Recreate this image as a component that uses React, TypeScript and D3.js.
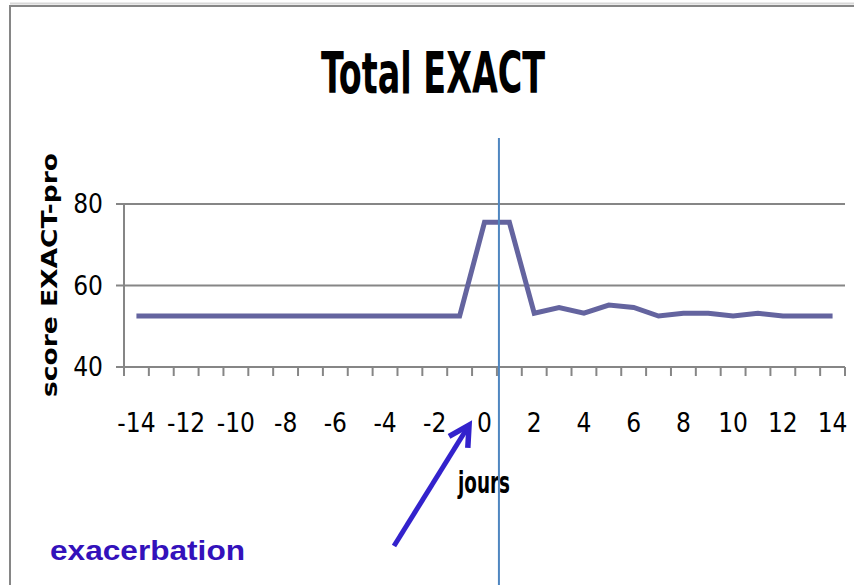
import React from "react";
import * as d3 from "d3";

const days: string[] = [
  "-14", "-13", "-12", "-11", "-10", "-9", "-8", "-7", "-6", "-5", "-4", "-3", "-2", "-1",
  "0", "1", "2", "3", "4", "5", "6", "7", "8", "9", "10", "11", "12", "13", "14",
];
const scores: number[] = [
  52.5, 52.5, 52.5, 52.5, 52.5, 52.5, 52.5, 52.5, 52.5, 52.5, 52.5, 52.5, 52.5, 52.5,
  75.5, 75.5, 53.2, 54.6, 53.2, 55.2, 54.6, 52.5, 53.2, 53.2, 52.5, 53.2, 52.5, 52.5, 52.5,
];
const xTickLabels: string[] = ["-14", "-12", "-10", "-8", "-6", "-4", "-2", "0", "2", "4", "6", "8", "10", "12", "14"];
const yTicks: number[] = [40, 60, 80];

const title = "Total EXACT";
const yTitle = "score EXACT-pro";
const xTitle = "jours";
const note = "exacerbation";
const markerDay = "1";

const W = 854;
const H = 585;
const NARROW = "'Liberation Sans Narrow', 'DejaVu Sans Condensed', 'Arial Narrow', sans-serif";

export default function App() {
  const x = d3.scaleBand<string>().domain(days).range([124, 845]).padding(0);
  const y = d3.scaleLinear().domain([40, 80]).range([367, 204]);
  const cx = (d: string) => (x(d) as number) + x.bandwidth() / 2;

  const line = d3
    .line<number>()
    .x((_, i) => cx(days[i]))
    .y((v) => y(v));

  const boundaries = d3.range(days.length + 1).map((i) => 124 + i * x.bandwidth());
  const markerX = (x(markerDay) as number) + 2;

  const tipX = (x("0") as number) - 3;
  const tipY = 425;
  const tailX = 394;
  const tailY = 546;
  const ang = Math.atan2(tipY - tailY, tipX - tailX);
  const headLen = 23;
  const spread = 0.5;
  const h1 = [tipX - headLen * Math.cos(ang - spread), tipY - headLen * Math.sin(ang - spread)];
  const h2 = [tipX - headLen * Math.cos(ang + spread), tipY - headLen * Math.sin(ang + spread)];

  return (
    <svg
      width={W}
      height={H}
      style={{ position: "absolute", left: 0, top: 0, background: "#fff" }}
    >
      {/* frame */}
      <line x1={10} x2={W} y1={3.5} y2={3.5} stroke="#d8d8d8" strokeWidth={2} />
      <line x1={10} x2={W} y1={6} y2={6} stroke="#868686" strokeWidth={2} />
      <line x1={10} x2={10} y1={5} y2={H} stroke="#868686" strokeWidth={2} />

      {/* title */}
      <text
        x={433}
        y={93}
        textAnchor="middle"
        fontFamily={NARROW}
        fontWeight="bold"
        fontSize={57}
        textLength={224}
        lengthAdjust="spacingAndGlyphs"
        fill="#000"
      >
        {title}
      </text>

      {/* gridlines + y ticks */}
      {yTicks.map((t) => (
        <g key={t}>
          <line x1={116} x2={845} y1={y(t)} y2={y(t)} stroke="#868686" strokeWidth={2} />
          <text
            x={103}
            y={y(t) + 9}
            textAnchor="end"
            fontFamily={NARROW}
            fontSize={26}
            fill="#000"
          >
            {t}
          </text>
        </g>
      ))}

      {/* y axis */}
      <line x1={124} x2={124} y1={y(80)} y2={y(40) + 9} stroke="#868686" strokeWidth={2} />

      {/* x ticks */}
      {boundaries.map((b, i) => (
        <line key={i} x1={b} x2={b} y1={y(40)} y2={y(40) + 9} stroke="#868686" strokeWidth={2} />
      ))}
      {xTickLabels.map((d) => (
        <text
          key={d}
          x={cx(d)}
          y={432}
          textAnchor="middle"
          fontFamily={NARROW}
          fontSize={26}
          fill="#000"
        >
          {d}
        </text>
      ))}

      {/* y title */}
      <text
        transform={`translate(57, 275) rotate(-90)`}
        textAnchor="middle"
        fontFamily="'DejaVu Sans', Verdana, sans-serif"
        fontWeight="bold"
        fontSize={22}
        textLength={244}
        lengthAdjust="spacingAndGlyphs"
        fill="#000"
      >
        {yTitle}
      </text>

      {/* x title */}
      <text
        x={484}
        y={493}
        textAnchor="middle"
        fontFamily={NARROW}
        fontWeight="bold"
        fontSize={31}
        textLength={52}
        lengthAdjust="spacingAndGlyphs"
        fill="#000"
      >
        {xTitle}
      </text>

      {/* data line */}
      <path
        d={line(scores) || ""}
        fill="none"
        stroke="#64649f"
        strokeWidth={5}
        strokeLinejoin="miter"
      />

      {/* event marker */}
      <line x1={markerX} x2={markerX} y1={138} y2={H} stroke="#4f86c0" strokeWidth={2} />

      {/* annotation */}
      <line x1={tailX} y1={tailY} x2={tipX - 2 * Math.cos(ang)} y2={tipY - 2 * Math.sin(ang)} stroke="#3322cc" strokeWidth={5} />
      <polyline
        points={`${h1[0]},${h1[1]} ${tipX},${tipY} ${h2[0]},${h2[1]}`}
        fill="none"
        stroke="#3322cc"
        strokeWidth={5.5}
        strokeLinejoin="miter"
        strokeLinecap="butt"
      />
      <text
        x={50}
        y={560}
        fontFamily="'Liberation Sans', Arial, sans-serif"
        fontWeight="bold"
        fontSize={28}
        textLength={195}
        lengthAdjust="spacingAndGlyphs"
        fill="#3311bb"
      >
        {note}
      </text>
    </svg>
  );
}
